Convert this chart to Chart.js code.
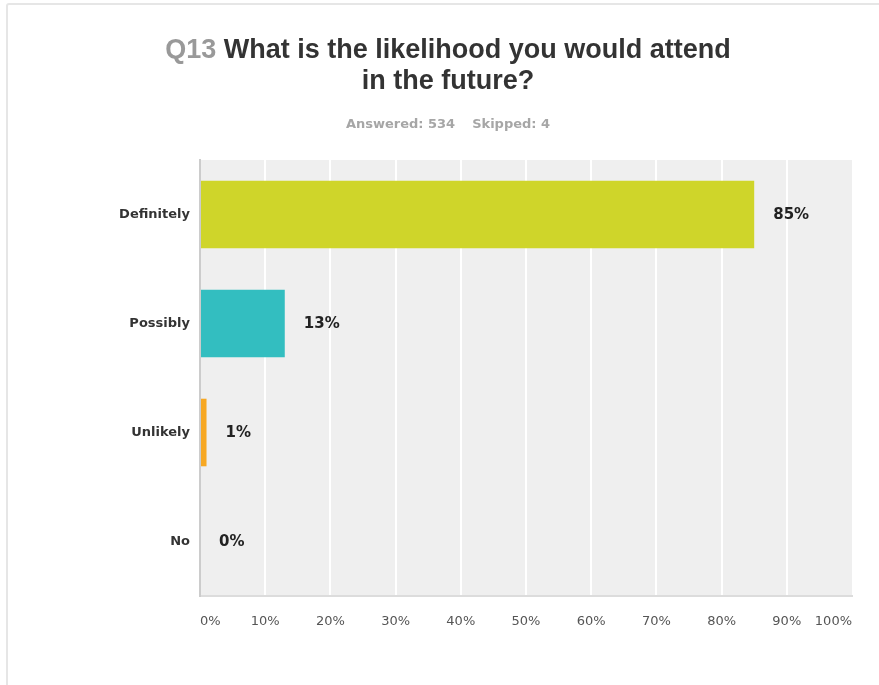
<!DOCTYPE html>
<html>
<head>
<meta charset="utf-8">
<script src="https://cdn.jsdelivr.net/npm/chart.js@4"></script>
<style>
	html, body { margin: 0; padding: 0; background: #fff; overflow: hidden; }
	body { width: 879px; height: 685px; position: relative; }
	#frame {
		position: absolute; left: 6px; top: 3px; width: 900px; height: 720px;
		border: 2px solid #e6e6e6; border-radius: 3px; box-sizing: border-box;
	}
	#chart { position: absolute; left: 0; top: 0; }
	#title {
		position: absolute; left: 0; top: 34px; width: 896px; text-align: center;
		font: bold 27px "Liberation Sans", Arial, sans-serif; line-height: 31px; color: #333;
	}
	#title .qnum { color: #999; }
	#subtitle {
		position: absolute; left: 0; top: 116px; width: 896px; text-align: center;
		font: bold 13px "DejaVu Sans", Verdana, sans-serif; line-height: 16px; color: #a6a6a6;
	}
	#subtitle span + span { margin-left: 17px; }
</style>
</head>
<body>
<div id="frame"></div>
<canvas id="chart" width="879" height="685"></canvas>
<div id="title"><span class="qnum">Q13</span> What is the likelihood you would attend<br>in the future?</div>
<div id="subtitle"><span>Answered: 534</span><span>Skipped: 4</span></div>

<script>
// ===============================
// Data
// ===============================
const categories = ["Definitely", "Possibly", "Unlikely", "No"];
const percentages = [85, 13, 1, 0];
const barColors = ["#cfd52a", "#33bec0", "#f7a823", "#9b9b9b"];

// ===============================
// Plugins
// ===============================
const plotBackground = {
	id: "plotBackground",
	beforeDraw(chart) {
		const { ctx, chartArea: a } = chart;
		ctx.save();
		ctx.fillStyle = "#efefef";
		ctx.fillRect(a.left, a.top, a.right - a.left, a.bottom - a.top);
		ctx.restore();
	}
};

const valueLabels = {
	id: "valueLabels",
	afterDatasetsDraw(chart) {
		const ctx = chart.ctx;
		const meta = chart.getDatasetMeta(0);
		ctx.save();
		ctx.font = "bold 15px 'DejaVu Sans', Verdana, sans-serif";
		ctx.fillStyle = "#222";
		ctx.textAlign = "left";
		ctx.textBaseline = "middle";
		meta.data.forEach((bar, i) => {
			ctx.fillText(percentages[i] + "%", bar.x + 19, bar.y + 1);
		});
		ctx.restore();
	}
};

// ===============================
// Chart
// ===============================
new Chart(document.getElementById("chart"), {
	type: "bar",
	data: {
		labels: categories,
		datasets: [{
			data: percentages,
			backgroundColor: barColors,
			borderWidth: 0,
			barPercentage: 0.62,
			categoryPercentage: 1
		}]
	},
	options: {
		indexAxis: "y",
		responsive: false,
		animation: false,
		layout: { padding: { left: 0, right: 27, top: 160, bottom: 0 } },
		plugins: {
			legend: { display: false },
			tooltip: { enabled: false }
		},
		scales: {
			x: {
				min: 0,
				max: 100,
				afterFit(scale) { scale.height = 89; },
				grid: {
					color: (c) => (c.index === 0 || c.index === 10) ? "rgba(0,0,0,0)" : "#ffffff",
					lineWidth: 2,
					drawTicks: false
				},
				border: { display: true, color: "#dcdcdc", width: 2 },
				ticks: {
					stepSize: 10,
					align: "inner",
					padding: 18,
					color: "#555",
					font: { family: "'DejaVu Sans', Verdana, sans-serif", size: 13 },
					callback: (v) => v + "%"
				}
			},
			y: {
				afterFit(scale) { scale.width = 200; },
				grid: { display: false, drawTicks: false },
				border: { display: true, color: "#cccccc", width: 2 },
				ticks: {
					padding: 10,
					color: "#333",
					font: { family: "'DejaVu Sans', Verdana, sans-serif", size: 13, weight: "bold" }
				}
			}
		}
	},
	plugins: [plotBackground, valueLabels]
});
</script>
</body>
</html>
